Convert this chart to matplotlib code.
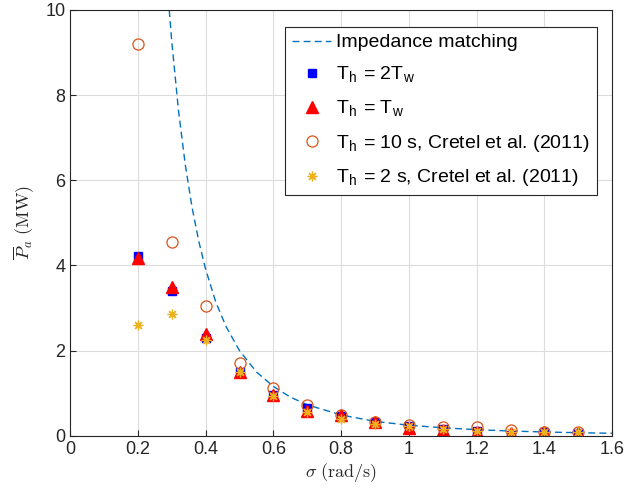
import numpy as np
import matplotlib
matplotlib.use('Agg')
import matplotlib.pyplot as plt

plt.rcParams['font.family'] = ['Liberation Sans', 'DejaVu Sans']
plt.rcParams['mathtext.fontset'] = 'cm'

# impedance matching curve
sig_imp = [0.285, 0.29, 0.30, 0.32, 0.34, 0.36, 0.38, 0.40, 0.43, 0.46, 0.50, 0.55,
           0.60, 0.65, 0.70, 0.80, 0.90, 1.00, 1.10, 1.20, 1.30, 1.40, 1.50, 1.60]
p_imp = [10.8, 10.25, 9.26, 7.63, 6.36, 5.36, 4.56, 3.91, 3.14, 2.57, 2.00, 1.50,
         1.16, 0.91, 0.73, 0.49, 0.34, 0.25, 0.19, 0.145, 0.114, 0.091, 0.074, 0.061]

sigma = [0.2, 0.3, 0.4, 0.5, 0.6, 0.7, 0.8, 0.9, 1.0, 1.1, 1.2, 1.3, 1.4, 1.5]
p_2tw = [4.22, 3.40, 2.30, 1.51, 0.96, 0.65, 0.47, 0.33, 0.22, 0.15, 0.12, 0.01, 0.09, 0.07]
p_tw = [4.18, 3.50, 2.40, 1.51, 0.96, 0.59, 0.48, 0.33, 0.19, 0.14, 0.10, 0.07, 0.08, 0.07]
p_cretel10 = [9.20, 4.55, 3.05, 1.72, 1.12, 0.73, 0.48, 0.33, 0.26, 0.20, 0.20, 0.14, 0.10, 0.10]
p_cretel2 = [2.60, 2.86, 2.24, 1.49, 0.93, 0.57, 0.40, 0.28, 0.22, 0.15, 0.12, 0.10, 0.09, 0.09]

fig = plt.figure(figsize=(6.26, 4.97), dpi=100)
ax = fig.add_axes([0.112, 0.123, 0.866, 0.857])

ax.plot(sig_imp, p_imp, '--', color='#0072BD', lw=1.0, dashes=(5, 3),
        label='Impedance matching')
ax.plot(sigma, p_2tw, 's', color='blue', ms=6, ls='none',
        label=r'T$_\mathregular{h}$ = 2T$_\mathregular{w}$')
ax.plot(sigma, p_tw, '^', color='red', ms=8, ls='none',
        label=r'T$_\mathregular{h}$ = T$_\mathregular{w}$')
ax.plot(sigma, p_cretel10, 'o', mfc='none', mec='#D95319', ms=8, mew=0.9, ls='none',
        label=r'T$_\mathregular{h}$ = 10 s, Cretel et al. (2011)')
ax.plot(sigma, p_cretel2, marker=(8, 2, 0), color='#EDB120', ms=7, mew=0.9, ls='none',
        label=r'T$_\mathregular{h}$ = 2 s, Cretel et al. (2011)')

ax.set_xlim(0, 1.6)
ax.set_ylim(0, 10)
ax.set_xticks(np.arange(0, 1.61, 0.2))
ax.set_xticklabels(['0', '0.2', '0.4', '0.6', '0.8', '1', '1.2', '1.4', '1.6'])
ax.set_yticks([0, 2, 4, 6, 8, 10])
ax.grid(True, color='#dcdcdc', lw=0.8)
ax.set_axisbelow(True)
ax.tick_params(direction='in', labelsize=13, colors='#262626', length=4, top=False, right=False)
for s in ax.spines.values():
    s.set_color('#262626')
    s.set_linewidth(0.8)

ax.set_xlabel(r'$\sigma\ \mathrm{(rad/s)}$', fontsize=13, color='#262626', labelpad=2)
ax.set_ylabel(r'$\overline{P}_a\ \mathrm{(MW)}$', fontsize=13, color='#262626', labelpad=6)

leg = ax.legend(loc='upper right', bbox_to_anchor=(0.971, 0.96), fontsize=14,
                fancybox=False, edgecolor='#262626', framealpha=1,
                handlelength=2.0, handletextpad=0.25, labelspacing=0.7,
                borderpad=0.35, borderaxespad=0)
leg.get_frame().set_linewidth(0.8)

fig.savefig('out.png', dpi=100)
